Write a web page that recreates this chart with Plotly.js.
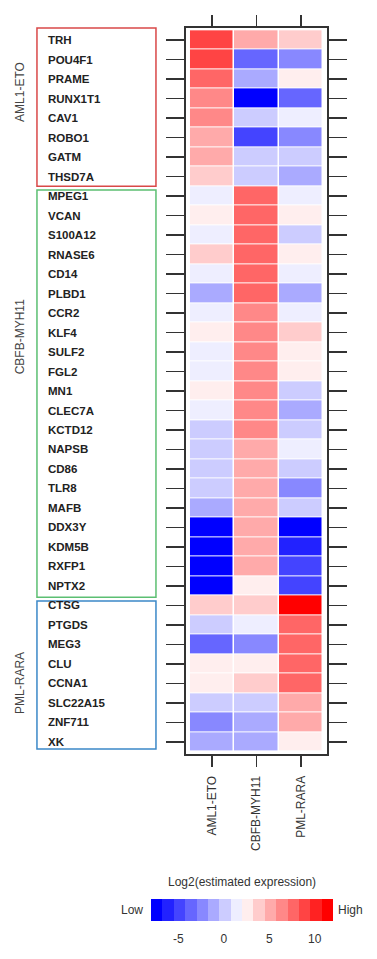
<!DOCTYPE html>
<html><head><meta charset="utf-8">
<script src="https://cdn.plot.ly/plotly-3.0.1.min.js"></script>
<style>html,body{margin:0;padding:0;background:#fff}#chart{width:377px;height:959px}</style>
</head><body><div id="chart"></div>
<script>
const genes = ['TRH','POU4F1','PRAME','RUNX1T1','CAV1','ROBO1','GATM','THSD7A',
  'MPEG1','VCAN','S100A12','RNASE6','CD14','PLBD1','CCR2','KLF4','SULF2','FGL2','MN1','CLEC7A','KCTD12','NAPSB','CD86','TLR8','MAFB','DDX3Y','KDM5B','RXFP1','NPTX2',
  'CTSG','PTGDS','MEG3','CLU','CCNA1','SLC22A15','ZNF711','XK'];
const samples = ['AML1-ETO','CBFB-MYH11','PML-RARA'];
const groupNames = ['AML1-ETO','CBFB-MYH11','PML-RARA'];
const aml1Eto = [8.9, 8.9, 7.6, 6.4, 6.4, 5.1, 5.1, 3.9, 1.4, 2.6, 1.4, 3.9, 1.4, -1.1, 1.4, 2.6, 1.4, 1.4, 2.6, 1.4, 0.1, 0.1, 0.1, 0.1, -1.1, -7.4, -7.4, -7.4, -7.4, 3.9, 0.1, -3.6, 2.6, 2.6, 0.1, -2.4, -1.1];
const cbfbMyh11 = [5.1, -3.6, -1.1, -7.4, 0.1, -4.9, 0.1, 0.1, 7.6, 7.6, 7.6, 7.6, 7.6, 7.6, 6.4, 6.4, 6.4, 6.4, 6.4, 6.4, 6.4, 5.1, 5.1, 5.1, 5.1, 5.1, 5.1, 5.1, 2.6, 3.9, 1.4, -2.4, 2.6, 3.9, 0.1, -1.1, -1.1];
const pmlRara = [3.9, -2.4, 2.6, -3.6, 1.4, -2.4, 0.1, -1.1, 1.4, 2.6, 0.1, 2.6, 1.4, -1.1, 1.4, 3.9, 2.6, 2.6, 0.1, -1.1, 0.1, 1.4, 0.1, -2.4, 0.1, -7.4, -6.1, -4.9, -4.9, 11.4, 7.6, 7.6, 7.6, 7.6, 5.1, 5.1, 2.6];
const paletteColors = ['#0000FF','#2222FF','#4444FF','#6666FF','#8888FF','#AAAAFF','#CCCCFF','#EEEEFF',
  '#FFEEEE','#FFCCCC','#FFAAAA','#FF8888','#FF6666','#FF4444','#FF2222','#FF0000'];
const colorbarTicks = [-5, 0, 5, 10];
const colorbarTickText = ['-5', '0', '5', '10'];
const zMin = -8, zMax = 12;

const z = genes.map((g, i) => [aml1Eto[i], cbfbMyh11[i], pmlRara[i]]);
const n = paletteColors.length;
const colorscale = [];
paletteColors.forEach((c, k) => { colorscale.push([k / n, c]); colorscale.push([(k + 1) / n, c]); });

const FONT = 'Liberation Sans, Arial, sans-serif';

const trace = {
  type: 'heatmap', x: samples, y: genes, z: z,
  zmin: zMin, zmax: zMax, colorscale: colorscale,
  xgap: 1.5, ygap: 1, hoverinfo: 'skip',
  colorbar: {
    orientation: 'h', thickness: 22, thicknessmode: 'pixels',
    len: 182, lenmode: 'pixels',
    x: 0.397, xanchor: 'center', y: -0.1997, yanchor: 'top',
    xpad: 0, ypad: 0,
    tickvals: colorbarTicks, ticktext: colorbarTickText,
    ticks: 'outside', ticklen: 8, tickcolor: 'rgba(0,0,0,0)', outlinewidth: 0,
    tickfont: {family: FONT, size: 12, color: '#333'},
    title: {text: ''}
  }
};

const annotations = genes.map(g => ({
  text: '<b>' + g + '</b>', xref: 'paper', yref: 'y', x: -0.99, y: g,
  xanchor: 'left', yanchor: 'middle', showarrow: false,
  font: {family: FONT, size: 11.5, color: '#222'}
}));
const groupLabelY = [0.912, 0.574, 0.098];
groupNames.forEach((g, i) => annotations.push({
  text: g, xref: 'paper', yref: 'paper', x: -1.177, y: groupLabelY[i],
  textangle: -90, showarrow: false, xanchor: 'center', yanchor: 'middle',
  font: {family: FONT, size: 12, color: '#444'}
}));
annotations.push({text: 'Log2(estimated expression)', xref: 'paper', yref: 'paper', x: 0.40, y: -0.176,
  showarrow: false, xanchor: 'center', yanchor: 'middle', font: {family: FONT, size: 12, color: '#333'}});
annotations.push({text: 'Low', xref: 'paper', yref: 'paper', x: -0.291, y: -0.215,
  showarrow: false, xanchor: 'right', yanchor: 'middle', font: {family: FONT, size: 12, color: '#333'}});
annotations.push({text: 'High', xref: 'paper', yref: 'paper', x: 1.064, y: -0.215,
  showarrow: false, xanchor: 'left', yanchor: 'middle', font: {family: FONT, size: 12, color: '#333'}});

const boxColors = ['#d94848', '#5cbf72', '#3b88c8'];
const boxY = [[1.0, 0.782], [0.777, 0.216], [0.2107, 0.0069]];
const shapes = boxY.map((b, i) => ({
  type: 'rect', xref: 'paper', yref: 'paper', x0: -1.057, x1: -0.213, y0: b[1], y1: b[0],
  line: {color: boxColors[i], width: 1.5}, fillcolor: 'rgba(0,0,0,0)'
}));

const layout = {
  width: 377, height: 959,
  margin: {l: 186, r: 50, t: 28, b: 205, autoexpand: false},
  paper_bgcolor: '#fff', plot_bgcolor: '#fff',
  font: {family: FONT, color: '#333'},
  xaxis: {
    type: 'category', range: [-0.59, 2.59], side: 'bottom',
    showline: true, linecolor: '#333', linewidth: 2, mirror: 'allticks',
    ticks: 'outside', ticklen: 11, tickwidth: 1.5, tickcolor: '#333',
    tickangle: -90, ticklabelstandoff: 4, tickfont: {family: FONT, size: 12, color: '#333'},
    showgrid: false, zeroline: false, fixedrange: true
  },
  yaxis: {
    type: 'category', range: [36.62, -0.62],
    showline: true, linecolor: '#333', linewidth: 2, mirror: 'allticks',
    ticks: 'outside', ticklen: 18, tickwidth: 1.5, tickcolor: '#333',
    showticklabels: false, showgrid: false, zeroline: false, fixedrange: true
  },
  annotations: annotations, shapes: shapes, showlegend: false
};

Plotly.newPlot('chart', [trace], layout, {displayModeBar: false, staticPlot: true});
</script></body></html>
